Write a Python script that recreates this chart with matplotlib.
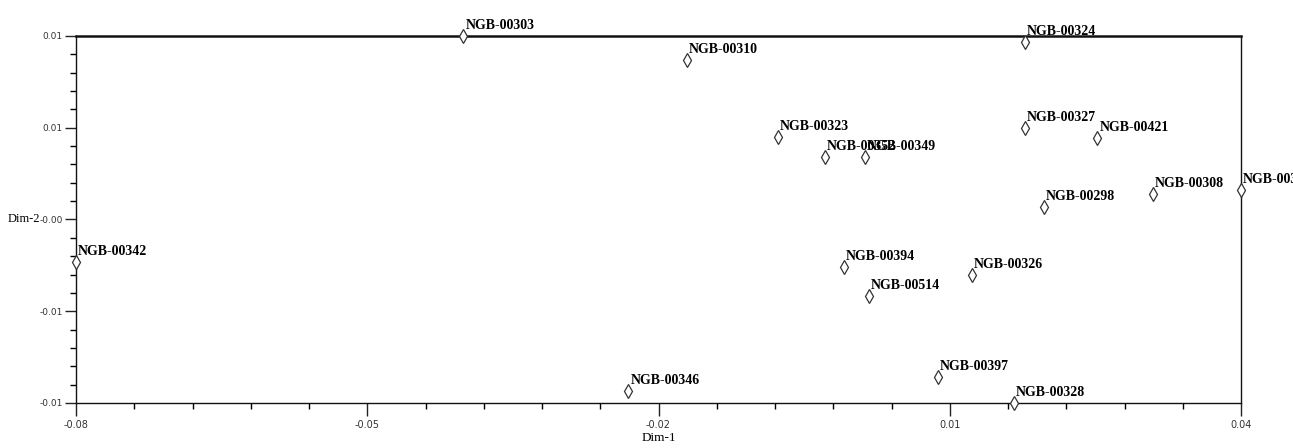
import matplotlib
matplotlib.use("Agg")
import matplotlib.pyplot as plt
from matplotlib.ticker import MultipleLocator, FixedLocator, FixedFormatter

labels = ["NGB-00303", "NGB-00310", "NGB-00324", "NGB-00323", "NGB-00352",
          "NGB-00349", "NGB-00327", "NGB-00421", "NGB-00298", "NGB-00308",
          "NGB-00331", "NGB-00342", "NGB-00394", "NGB-00514", "NGB-00326",
          "NGB-00346", "NGB-00397", "NGB-00328"]
dim1 = [-0.0401, -0.0171, 0.0177, -0.0077, -0.0029,
        0.0013, 0.0177, 0.0252, 0.0197, 0.0309,
        0.0400, -0.0800, -0.0009, 0.0017, 0.0123,
        -0.0231, 0.0088, 0.0166]
dim2 = [0.0120, 0.0104, 0.0116, 0.0054, 0.0041,
        0.0041, 0.0060, 0.0053, 0.0008, 0.0017,
        0.0019, -0.0028, -0.0031, -0.0050, -0.0036,
        -0.0112, -0.0103, -0.0120]

x_major = [-0.08, -0.05, -0.02, 0.01, 0.04]
x_major_labels = ["-0.08", "-0.05", "-0.02", "0.01", "0.04"]
y_major = [0.012, 0.006, 0.0, -0.006, -0.012]
y_major_labels = ["0.01", "0.01", "-0.00", "-0.01", "-0.01"]

fig = plt.figure(figsize=(12.93, 4.48), dpi=100)
ax = fig.add_axes([76/1293, 1-403/448, (1241-76)/1293, (403-36)/448])

ax.plot(dim1, dim2, linestyle="none", marker="d", markersize=7,
        markerfacecolor="white", markeredgecolor="#333333",
        markeredgewidth=0.9, clip_on=False, zorder=3)

for lab, x, y in zip(labels, dim1, dim2):
    ax.annotate(lab, (x, y), xytext=(2, 7), textcoords="offset pixels",
                ha="left", va="baseline", fontsize=10, fontweight="bold",
                family="Liberation Serif", color="#000000",
                annotation_clip=False)

ax.set_xlim(-0.08, 0.04)
ax.set_ylim(-0.012, 0.012)

ax.xaxis.set_major_locator(FixedLocator(x_major))
ax.xaxis.set_major_formatter(FixedFormatter(x_major_labels))
ax.xaxis.set_minor_locator(FixedLocator([-0.08 + 0.006 * k for k in range(21)]))
ax.yaxis.set_major_locator(FixedLocator(y_major))
ax.yaxis.set_major_formatter(FixedFormatter(y_major_labels))
ax.yaxis.set_minor_locator(MultipleLocator(0.0012))

ax.tick_params(which="major", direction="out", length=9, width=1,
               labelsize=7, colors="#222222", pad=3)
ax.tick_params(axis="y", which="major", length=8, pad=1.5, labelsize=6.5)
ax.tick_params(which="minor", direction="out", length=4, width=1)
ax.tick_params(axis="x", which="both", top=False)
ax.tick_params(axis="y", which="both", right=False)
for lab in ax.get_xticklabels() + ax.get_yticklabels():
    lab.set_family("DejaVu Sans")
    lab.set_color("#333333")

for side in ["left", "right", "bottom"]:
    ax.spines[side].set_linewidth(1.0)
    ax.spines[side].set_color("#111111")
ax.spines["top"].set_linewidth(1.8)
ax.spines["top"].set_color("#111111")

ax.set_xlabel("Dim-1", family="Liberation Serif", fontsize=9.5, labelpad=2)
ax.set_ylabel("Dim-2", family="Liberation Serif", fontsize=9,
              rotation=0, ha="left", va="center")
ax.yaxis.set_label_coords(-68/1165, 0.5)

fig.savefig("out.png", dpi=100)
